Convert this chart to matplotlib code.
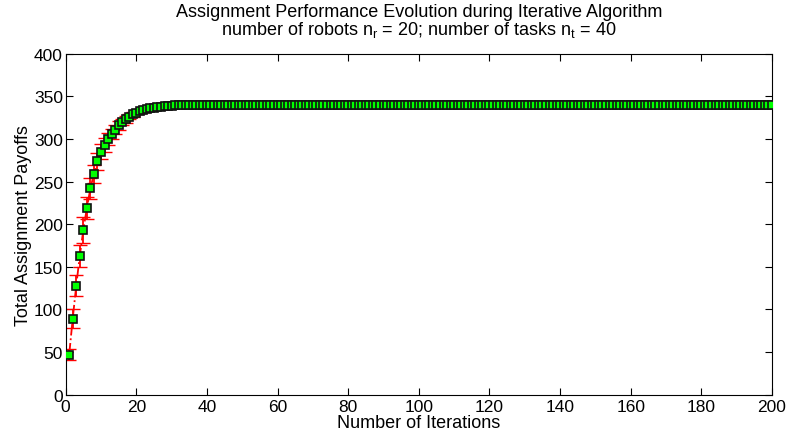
import matplotlib.pyplot as plt
import numpy as np

plt.rcParams['font.family'] = ['Liberation Sans', 'DejaVu Sans']
plt.rcParams['mathtext.fontset'] = 'custom'
plt.rcParams['mathtext.rm'] = 'Liberation Sans'
plt.rcParams['mathtext.it'] = 'Liberation Sans'

# payoffs for the first 40 iterations, flat afterwards
payoff_start = [47, 89, 128, 163, 193, 219, 242, 259, 274, 285,
                293, 300, 306, 311, 316, 320, 323, 326, 329, 331,
                332.5, 334, 335, 336, 337, 337.5, 338, 338.5, 339, 339,
                339.5, 339.5, 340, 340, 340, 340, 340, 340, 340, 340]
payoff_flat = [340] * 160
error_start = [7, 11, 12, 13, 15, 13, 12, 11, 10, 9,
               8, 7, 6, 5, 5, 4, 4, 3, 3, 2,
               2, 2, 1.5, 1, 1, 0.5, 0.5, 0.5, 0.5, 0.5]
error_flat = [0] * 170

payoff = np.array(payoff_start + payoff_flat)
errors = np.array(error_start + error_flat)
iterations = np.arange(1, len(payoff) + 1)

fig = plt.figure(figsize=(7.91, 4.39), dpi=100)
ax = fig.add_axes([0.083, 0.099, 0.893, 0.776])

ax.errorbar(iterations, payoff, yerr=errors, color='red', linestyle='-.',
            linewidth=1.3, elinewidth=1.3, capsize=5, zorder=2)
ax.plot(iterations, payoff, linestyle='none', marker='s', markersize=5.8,
        markerfacecolor='#00ff00', markeredgecolor='#111111', markeredgewidth=1.2,
        zorder=3)

ax.set_xlim(0, 200)
ax.set_ylim(0, 400)
ax.set_xticks(np.arange(0, 201, 20))
ax.set_yticks(np.arange(0, 401, 50))
ax.tick_params(direction='in', top=True, right=True, length=5, labelsize=12.5)
ax.tick_params(axis='x', pad=3)
ax.tick_params(axis='y', pad=2)

ax.set_xlabel('Number of Iterations', fontsize=13, labelpad=0.5)
ax.set_ylabel('Total Assignment Payoffs', fontsize=13, labelpad=1)
ax.set_title('Assignment Performance Evolution during Iterative Algorithm\n'
             'number of robots n$_\\mathrm{r}$ = 20; number of tasks n$_\\mathrm{t}$ = 40',
             fontsize=13, linespacing=0.95, pad=14)

fig.savefig('out.png', dpi=100)
